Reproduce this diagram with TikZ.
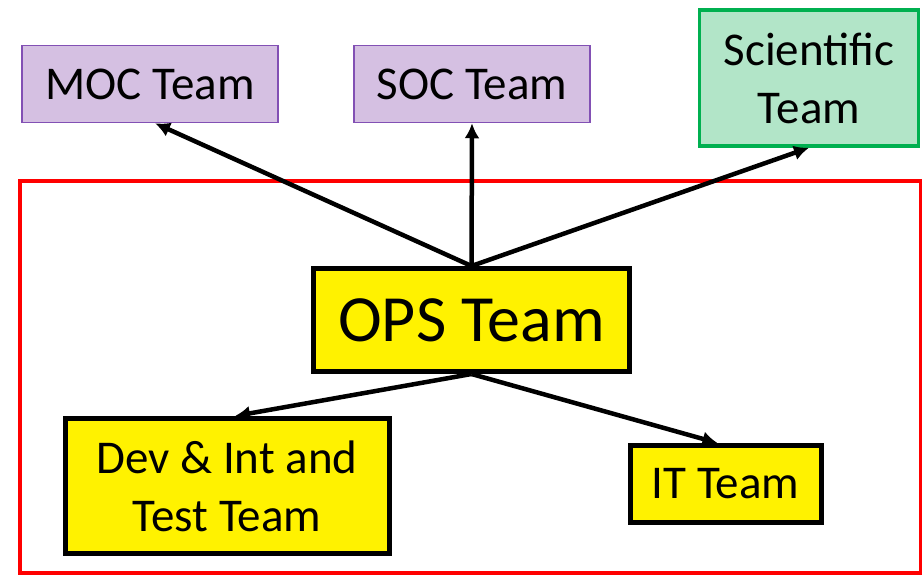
\documentclass[tikz,border=0pt]{standalone}
\usepackage{xcolor}
\usepackage{fontspec}
\setmainfont{Carlito}
\usepackage{tikz}
\usetikzlibrary{arrows.meta}
\usetikzlibrary{calc}

\definecolor{mocfill}{HTML}{D5C0E2}
\definecolor{mocline}{HTML}{8250B4}
\definecolor{scifill}{HTML}{B2E5C8}
\definecolor{sciline}{HTML}{00B050}

\tikzset{
  teambox/.style={draw, align=center, inner sep=0pt, font=\fontsize{47}{58}\selectfont},
  outerteam/.style={teambox, fill=mocfill, draw=mocline, line width=1.5},
  sciteam/.style={teambox, fill=scifill, draw=sciline, line width=3.5},
  opsteam/.style={teambox, fill=yellow, draw=black, line width=5},
  link/.style={black, line width=4.5, -{Latex[length=15pt,width=15pt]}},
}

\begin{document}
\begin{tikzpicture}[x=1pt, y=-1pt]
\useasboundingbox (0,0) rectangle (922,577);
% boundary of the operations side
\draw[red, line width=3.5] (20,181) rectangle (921,573);

\node[outerteam, minimum width=256, minimum height=77] (moc) at (150,84) {MOC Team};
\node[outerteam, minimum width=236, minimum height=77] (soc) at (472,84) {SOC Team};
\node[sciteam, minimum width=219, minimum height=136] (sci) at (809,78) {Scientific\\Team};

\node[opsteam, minimum width=316, minimum height=103, font=\fontsize{66}{70}\selectfont] (ops) at (471.5,320) {OPS Team};
\node[opsteam, minimum width=324, minimum height=135] (dev) at (227,486) {Dev \& Int and\\Test Team};
\node[opsteam, minimum width=191, minimum height=77] (it) at (725.5,484) {IT Team};

% upward links
\draw[link] (ops.north) -- ($(moc.south)+(5,0)$);
\draw[link] (ops.north) -- (soc.south);
\draw[link] (ops.north) -- (sci.south);
% downward links
\draw[link] (ops.south) -- ($(dev.north)+(8,0)$);
\draw[link] (ops.south) -- ($(it.north)+(-8,0)$);
\end{tikzpicture}
\end{document}
